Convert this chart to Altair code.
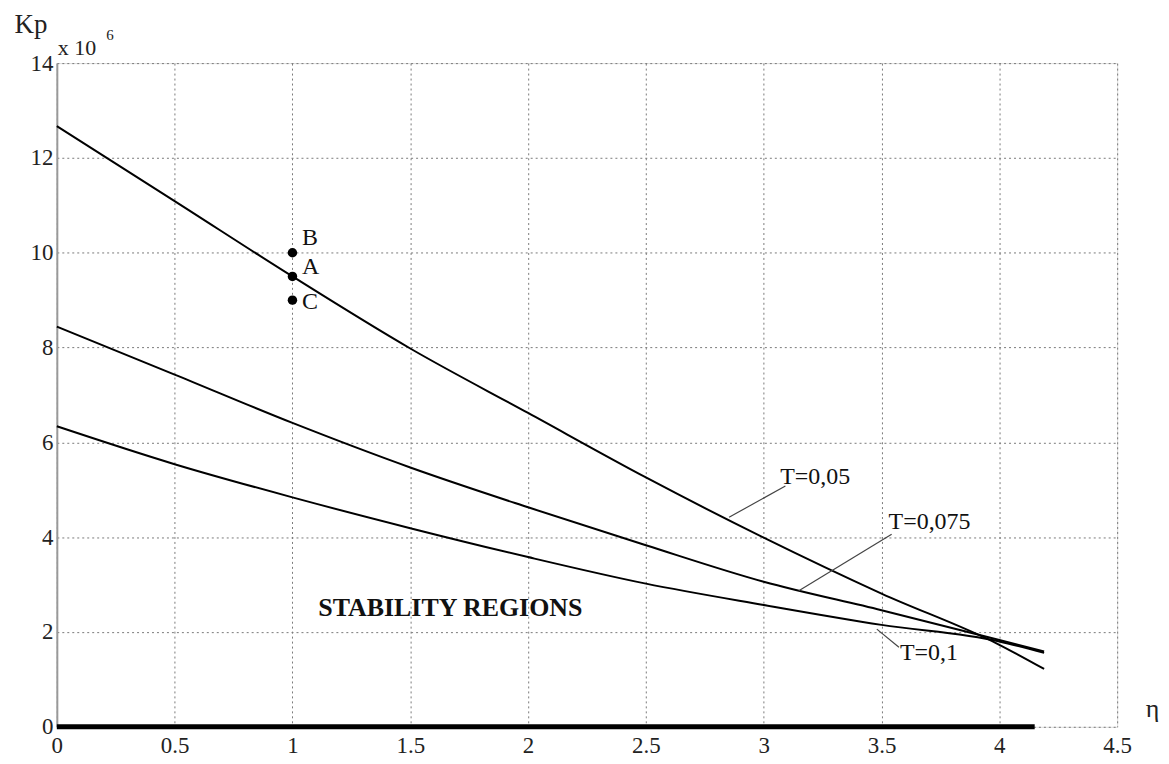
import altair as alt
import pandas as pd

# ---- data ----
eta = [0, 0.5, 1, 1.5, 2, 2.5, 3, 3.5, 4, 4.19]
kp_t005 = [12.67, 11.09, 9.5, 7.98, 6.62, 5.26, 3.99, 2.81, 1.73, 1.22]
kp_t0075 = [8.44, 7.43, 6.41, 5.47, 4.63, 3.83, 3.06, 2.46, 1.83, 1.59]
kp_t01 = [6.34, 5.54, 4.84, 4.19, 3.58, 3.02, 2.57, 2.15, 1.80, 1.56]

pt_labels = ["B", "A", "C"]
pt_eta = [1, 1, 1]
pt_kp = [10.0, 9.5, 9.0]

x_ticks = [0, 0.5, 1, 1.5, 2, 2.5, 3, 3.5, 4, 4.5]
y_ticks = [0, 2, 4, 6, 8, 10, 12, 14]

curve_labels = ["T=0,05", "T=0,075", "T=0,1"]
label_x = [3.07, 3.53, 3.578]
label_y = [5.26, 4.31, 1.56]
leader_x1 = [2.853, 3.149, 3.48]
leader_y1 = [4.42, 2.87, 2.06]
leader_x2 = [3.092, 3.543, 3.574]
leader_y2 = [5.08, 4.06, 1.68]

zero_line_end = 4.15

FONT = "Liberation Serif"

rows = []
for name, ys in [("T=0,05", kp_t005), ("T=0,075", kp_t0075), ("T=0,1", kp_t01)]:
    for e, k in zip(eta, ys):
        rows.append({"eta": e, "kp": k, "series": name})
curves = pd.DataFrame(rows)

xs = alt.Scale(domain=[0, 4.5], nice=False, zero=False)
ys = alt.Scale(domain=[0, 14], nice=False, zero=False)

x_axis = alt.Axis(values=x_ticks, title=None, grid=True, gridDash=[2, 3], gridColor="#7a7a7a",
                  gridWidth=1, ticks=False, domain=False, labelFont=FONT, labelFontSize=23,
                  labelColor="#222", labelPadding=8, labelFlush=False, format="~g")
y_axis = alt.Axis(values=y_ticks, title=None, grid=True, gridDash=[2, 3], gridColor="#7a7a7a",
                  gridWidth=1, ticks=False, domain=True, domainColor="#999", domainWidth=2,
                  labelFont=FONT, labelFontSize=23, labelColor="#222", labelPadding=4,
                  labelFlush=False)

base_curves = alt.Chart(curves).mark_line(color="black", strokeWidth=2, interpolate="monotone").encode(
    x=alt.X("eta:Q", scale=xs, axis=x_axis),
    y=alt.Y("kp:Q", scale=ys, axis=y_axis),
    detail="series:N",
)

zero = alt.Chart(pd.DataFrame({"x1": [0], "x2": [zero_line_end], "y": [0]})).mark_rule(
    color="black", strokeWidth=5
).encode(x=alt.X("x1:Q", scale=xs), x2="x2:Q", y=alt.Y("y:Q", scale=ys))

leaders = alt.Chart(pd.DataFrame({"x1": leader_x1, "y1": leader_y1,
                                  "x2": leader_x2, "y2": leader_y2})).mark_rule(
    color="#444", strokeWidth=1.2
).encode(x=alt.X("x1:Q", scale=xs), y=alt.Y("y1:Q", scale=ys), x2="x2:Q", y2="y2:Q")

curve_text = alt.Chart(pd.DataFrame({"t": curve_labels, "x": label_x, "y": label_y})).mark_text(
    font=FONT, fontSize=24, align="left", baseline="middle", color="#111"
).encode(x=alt.X("x:Q", scale=xs), y=alt.Y("y:Q", scale=ys), text="t:N")

pts = pd.DataFrame({"t": pt_labels, "x": pt_eta, "y": pt_kp})
dots = alt.Chart(pts).mark_point(filled=True, color="black", size=90, opacity=1).encode(
    x=alt.X("x:Q", scale=xs), y=alt.Y("y:Q", scale=ys)
)
pt_text_df = pd.DataFrame({"t": pt_labels, "x": [1.04, 1.04, 1.04], "y": [10.32, 9.69, 8.96]})
pt_text = alt.Chart(pt_text_df).mark_text(
    font=FONT, fontSize=24, align="left", baseline="middle", color="#111"
).encode(x=alt.X("x:Q", scale=xs), y=alt.Y("y:Q", scale=ys), text="t:N")

stab = alt.Chart(pd.DataFrame({"t": ["STABILITY REGIONS"], "x": [1.67], "y": [2.5]})).mark_text(
    font=FONT, fontSize=26, fontWeight="bold", align="center", baseline="middle", color="#111"
).encode(x=alt.X("x:Q", scale=xs), y=alt.Y("y:Q", scale=ys), text="t:N")

title_text = ["Kp", "x 10", "6", "η"]
title_x = [-0.11, 0.004, 0.21, 4.65]
title_y = [14.63, 14.18, 14.48, 0.2]
title_size = [27, 22, 15, 26]
title_align = ["center", "left", "left", "center"]

titles = alt.layer(*[
    alt.Chart(pd.DataFrame({"t": [title_text[i]], "x": [title_x[i]], "y": [title_y[i]]})).mark_text(
        font=FONT, fontSize=title_size[i], align=title_align[i],
        baseline="alphabetic", color="#222"
    ).encode(x=alt.X("x:Q", scale=xs), y=alt.Y("y:Q", scale=ys), text="t:N")
    for i in range(len(title_text))
])

chart = alt.layer(base_curves, zero, leaders, curve_text, dots, pt_text, stab, titles).properties(
    width=1064, height=666,
    autosize=alt.AutoSizeParams(type="none"),
    padding={"left": 49, "top": 54, "right": 44, "bottom": 30},
).configure_view(stroke="#999", strokeWidth=1.5).configure(background="white")

chart.save("out.html", embed_options={"renderer": "svg", "actions": False})
